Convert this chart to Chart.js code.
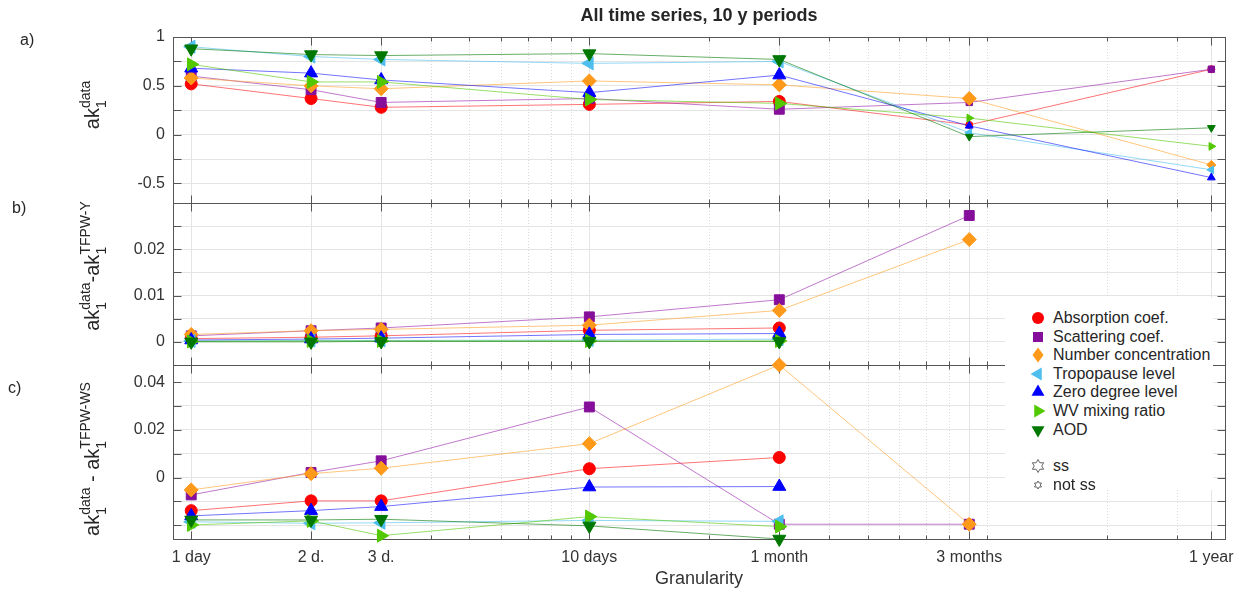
<!DOCTYPE html>
<html>
<head>
<meta charset="utf-8">
<title>All time series, 10 y periods</title>
<script src="https://cdn.jsdelivr.net/npm/chart.js@4.4.1/dist/chart.umd.min.js"></script>
<style>
body { margin: 0; background: #fff; font-family: "Liberation Sans", Arial, sans-serif; }
#wrap { position: relative; width: 1243px; height: 594px; overflow: hidden; }
#plot { position: absolute; left: 0; top: 0; }
.txt { position: absolute; white-space: nowrap; color: #262626; }
.title { font-weight: bold; font-size: 18px; transform: translate(-50%, -50%); }
.panel { font-size: 16px; transform: translateY(-50%); }
.ytitle { font-size: 20px; transform: translate(-50%, -50%) rotate(-90deg); }
.ss { display: inline-block; vertical-align: -7px; font-size: 14px; line-height: 16px; }
.ss span { display: block; }
#legend { position: absolute; left: 1005px; top: 298px; width: 208px; height: 192px; background: #fff; }
.leg { position: absolute; left: 0; height: 18px; line-height: 18px; font-size: 16px; color: #262626; }
.leg svg { position: absolute; left: 23px; top: -1px; }
.leg span { position: absolute; left: 48px; white-space: nowrap; }
</style>
</head>
<body>
<div id="wrap">
  <canvas id="plot" width="1243" height="594"></canvas>
  <div class="txt title" style="left:699px;top:15px">All time series, 10 y periods</div>
  <div class="txt panel" style="left:20px;top:40px">a)</div>
  <div class="txt panel" style="left:12px;top:208px">b)</div>
  <div class="txt panel" style="left:8px;top:388px">c)</div>
  <div class="txt ytitle" style="left:93px;top:105px">ak<span class="ss"><span>data</span><span>1</span></span></div>
  <div class="txt ytitle" style="left:93px;top:266px">ak<span class="ss"><span>data</span><span>1</span></span>-ak<span class="ss"><span>TFPW-Y</span><span>1</span></span></div>
  <div class="txt ytitle" style="left:93px;top:459px">ak<span class="ss"><span>data</span><span>1</span></span> - ak<span class="ss"><span>TFPW-WS</span><span>1</span></span></div>
  <div id="legend"></div>
</div>
<script>
// granularity (days) and their labels
var granularityDays = [1, 2, 3, 10, 30, 90, 365];
var granularityLabels = ['1 day', '2 d.', '3 d.', '10 days', '1 month', '3 months', '1 year'];
var minorDays = [2, 3, 4, 5, 6, 7, 8, 9, 20, 30, 40, 50, 60, 70, 80, 90, 100, 200, 300];

var seriesNames = ['Absorption coef.', 'Scattering coef.', 'Number concentration', 'Tropopause level', 'Zero degree level', 'WV mixing ratio', 'AOD'];

// a) ak1 data
var absA = [0.52, 0.37, 0.28, 0.31, 0.34, 0.10, 0.67];
var scaA = [0.60, 0.46, 0.33, 0.37, 0.26, 0.33, 0.67];
var numA = [0.58, 0.50, 0.47, 0.55, 0.51, 0.37, -0.31];
var troA = [0.90, 0.80, 0.77, 0.73, 0.75, 0.02, -0.36];
var zerA = [0.68, 0.63, 0.56, 0.43, 0.61, 0.09, -0.44];
var wvA = [0.72, 0.54, 0.54, 0.36, 0.32, 0.17, -0.12];
var aodA = [0.88, 0.82, 0.81, 0.83, 0.77, -0.02, 0.07];
// statistically significant (1) or not (0), panel a
var ssA = [1, 1, 1, 1, 1, 0, 0];
var ssNumA = [1, 1, 1, 1, 1, 1, 0];
var ssAll = [1, 1, 1, 1, 1, 1, 1];

// b) ak1 data - ak1 TFPW-Y
var absB = [0.0007, 0.0010, 0.0013, 0.0025, 0.0030, null, null];
var scaB = [0.0013, 0.0024, 0.0030, 0.0054, 0.0091, 0.0273, null];
var numB = [0.0016, 0.0024, 0.0027, 0.0036, 0.0068, 0.0221, null];
var troB = [0.0002, 0.0003, 0.0003, 0.0004, 0.0006, null, null];
var zerB = [0.0004, 0.0006, 0.0008, 0.0016, 0.0018, null, null];
var wvB = [0.0001, 0.0002, 0.0002, 0.0002, 0.0002, null, null];
var aodB = [0.0000, 0.0000, 0.0001, 0.0001, 0.0001, null, null];

// c) ak1 data - ak1 TFPW-WS
var absC = [-0.0139, -0.0098, -0.0098, 0.0037, 0.0084, null, null];
var scaC = [-0.0073, 0.0021, 0.0070, 0.0296, -0.0196, -0.0196, null];
var numC = [-0.0052, 0.0016, 0.0039, 0.0142, 0.0472, -0.0196, null];
var troC = [-0.0186, -0.0192, -0.0190, -0.0180, -0.0184, null, null];
var zerC = [-0.0161, -0.0139, -0.0122, -0.0040, -0.0038, null, null];
var wvC = [-0.0199, -0.0182, -0.0244, -0.0164, -0.0206, null, null];
var aodC = [-0.0178, -0.0178, -0.0175, -0.0203, -0.0258, null, null];

// y ticks and which of them carry a label
var yTicksA = [-0.5, -0.25, 0, 0.25, 0.5, 0.75, 1];
var yLabelsA = [-0.5, 0, 0.5, 1];
var yTicksB = [0, 0.005, 0.01, 0.015, 0.02, 0.025];
var yLabelsB = [0, 0.01, 0.02];
var yTicksC = [-0.02, -0.01, 0, 0.01, 0.02, 0.03, 0.04];
var yLabelsC = [0, 0.02, 0.04];

// styles
var seriesColors = ['#ff0000', '#850f9a', '#ff9919', '#4dbeee', '#0000ff', '#52c800', '#007800'];
var lineColors = ['rgba(255,0,0,0.55)', 'rgba(150,30,170,0.6)', 'rgba(255,160,40,0.6)', 'rgba(77,190,238,0.6)', 'rgba(0,0,255,0.55)', 'rgba(82,200,0,0.6)', 'rgba(0,120,0,0.6)'];
var pointStyles = ['circle', 'rect', 'rectRot', 'triangle', 'triangle', 'triangle', 'triangle'];
var pointRotations = [0, 0, 0, -90, 0, 90, 180];
var bigRadius = [6, 7, 7, 7.5, 7.5, 7.5, 7.5];
var smallRadius = [3.5, 4.5, 4.5, 4.5, 4.5, 4.5, 4.5];

var fontFamily = '"Liberation Sans", Arial, sans-serif';
Chart.defaults.font.family = fontFamily;

function buildDatasets(values, flags, yId) {
    return values.map(function(vals, s) {
        return {
            label: seriesNames[s],
            yAxisID: yId,
            data: granularityDays.map(function(d, i) { return { x: d, y: vals[i] }; }),
            borderColor: lineColors[s],
            borderWidth: 1,
            backgroundColor: seriesColors[s],
            pointBackgroundColor: seriesColors[s],
            pointBorderColor: seriesColors[s],
            pointBorderWidth: 1,
            pointStyle: pointStyles[s],
            pointRotation: pointRotations[s],
            pointRadius: flags[s].map(function(f) { return f ? bigRadius[s] : smallRadius[s]; }),
            tension: 0,
            spanGaps: false,
            clip: false,
            order: 10 - s
        };
    });
}

function yScale(min, max, ticks, labels, weight, stackWeight) {
    return {
        type: 'linear',
        position: 'left',
        stack: 'panels',
        stackWeight: stackWeight,
        weight: weight,
        min: min,
        max: max,
        border: { display: false },
        grid: { color: '#e4e4e4', drawTicks: false },
        ticks: {
            autoSkip: false,
            padding: 8,
            color: '#333',
            font: { size: 16 },
            callback: function(v) { return labels.indexOf(v) >= 0 ? String(v) : ''; }
        },
        afterBuildTicks: function(s) { s.ticks = ticks.map(function(v) { return { value: v }; }); },
        afterFit: function(s) { s.width = 173; }
    };
}

// MATLAB style boxes, inward ticks and dotted minor grid
var matlabFrame = {
    id: 'matlabFrame',
    beforeDatasetsDraw: function(chart) {
        var ctx = chart.ctx;
        var area = chart.chartArea;
        var xs = chart.scales.x;
        var panels = [chart.scales.yA, chart.scales.yB, chart.scales.yC];
        var left = Math.round(area.left) + 0.5;
        var right = Math.round(area.right) + 0.5;
        ctx.save();
        ctx.lineWidth = 1;
        ctx.strokeStyle = '#d9d9d9';
        ctx.setLineDash([1, 2]);
        minorDays.forEach(function(d) {
            if (granularityDays.indexOf(d) >= 0) return;
            var px = Math.round(xs.getPixelForValue(d)) + 0.5;
            ctx.beginPath();
            ctx.moveTo(px, area.top);
            ctx.lineTo(px, area.bottom);
            ctx.stroke();
        });
        ctx.setLineDash([]);
        ctx.strokeStyle = '#555';
        panels.forEach(function(s) {
            var top = Math.round(s.top) + 0.5;
            var bot = Math.round(s.bottom) + 0.5;
            ctx.strokeRect(left, top, right - left, bot - top);
            ctx.beginPath();
            function tickX(d, len) {
                var px = Math.round(xs.getPixelForValue(d)) + 0.5;
                ctx.moveTo(px, top); ctx.lineTo(px, top + len);
                ctx.moveTo(px, bot); ctx.lineTo(px, bot - len);
            }
            granularityDays.forEach(function(d) { tickX(d, 8); });
            minorDays.forEach(function(d) { tickX(d, 4); });
            s.ticks.forEach(function(t) {
                var py = Math.round(s.getPixelForValue(t.value)) + 0.5;
                ctx.moveTo(left, py); ctx.lineTo(left + 8, py);
                ctx.moveTo(right, py); ctx.lineTo(right - 8, py);
            });
            ctx.stroke();
        });
        ctx.restore();
    }
};

var datasets = []
    .concat(buildDatasets([absA, scaA, numA, troA, zerA, wvA, aodA], [ssA, ssA, ssNumA, ssA, ssA, ssA, ssA], 'yA'))
    .concat(buildDatasets([absB, scaB, numB, troB, zerB, wvB, aodB], [ssAll, ssAll, ssAll, ssAll, ssAll, ssAll, ssAll], 'yB'))
    .concat(buildDatasets([absC, scaC, numC, troC, zerC, wvC, aodC], [ssAll, ssAll, ssAll, ssAll, ssAll, ssAll, ssAll], 'yC'));

var chart = new Chart(document.getElementById('plot'), {
    type: 'line',
    data: { datasets: datasets },
    plugins: [matlabFrame],
    options: {
        responsive: false,
        animation: false,
        events: [],
        layout: { padding: { top: 37, right: 18, bottom: 0, left: 0 } },
        plugins: { legend: { display: false }, tooltip: { enabled: false } },
        scales: {
            x: {
                type: 'logarithmic',
                position: 'bottom',
                min: 0.9,
                max: 395,
                border: { display: false },
                grid: { color: '#e4e4e4', drawTicks: false },
                ticks: {
                    autoSkip: false,
                    maxRotation: 0,
                    padding: 9,
                    color: '#333',
                    font: { size: 16 },
                    callback: function(v, i) { return granularityLabels[i]; }
                },
                title: { display: true, text: 'Granularity', color: '#333', font: { size: 18 }, padding: { top: 0, bottom: 4 } },
                afterBuildTicks: function(s) { s.ticks = granularityDays.map(function(d) { return { value: d }; }); },
                afterFit: function(s) { s.height = 55; }
            },
            yA: yScale(-0.7, 1, yTicksA, yLabelsA, 3, 166),
            yB: yScale(-0.005, 0.03, yTicksB, yLabelsB, 2, 162),
            yC: yScale(-0.0258, 0.0472, yTicksC, yLabelsC, 1, 174)
        }
    }
});

// legend drawn as html over the right side of panels b and c
function markerSvg(shape, color, rot, r) {
    var body = '';
    if (shape === 'circle') {
        body = '<circle cx="0" cy="0" r="' + r + '" fill="' + color + '"/>';
    } else if (shape === 'rect') {
        body = '<rect x="-5" y="-5" width="10" height="10" fill="' + color + '"/>';
    } else if (shape === 'rectRot') {
        body = '<polygon points="0,-7.5 5.5,0 0,7.5 -5.5,0" fill="' + color + '"/>';
    } else if (shape === 'triangle') {
        var pts = [];
        for (var k = 0; k < 3; k++) {
            var a = (rot + k * 120) * Math.PI / 180;
            pts.push((Math.sin(a) * r).toFixed(2) + ',' + (-Math.cos(a) * r).toFixed(2));
        }
        body = '<polygon points="' + pts.join(' ') + '" fill="' + color + '"/>';
    } else if (shape === 'hex') {
        var hp = [];
        for (var j = 0; j < 12; j++) {
            var rr = j % 2 ? r / Math.sqrt(3) : r;
            var b = j * Math.PI / 6;
            hp.push((Math.sin(b) * rr).toFixed(2) + ',' + (-Math.cos(b) * rr).toFixed(2));
        }
        body = '<polygon points="' + hp.join(' ') + '" fill="none" stroke="#555" stroke-width="0.9"/>';
    }
    return '<svg width="20" height="20" viewBox="-10 -10 20 20">' + body + '</svg>';
}

var legend = document.getElementById('legend');
var rows = [];
seriesNames.forEach(function(name, s) {
    rows.push({ top: 11 + s * 18.6, svg: markerSvg(pointStyles[s], seriesColors[s], pointRotations[s], s === 0 ? 6 : 7.5), text: name });
});
rows.push({ top: 159, svg: markerSvg('hex', '', 0, 6.5), text: 'ss' });
rows.push({ top: 177.5, svg: markerSvg('hex', '', 0, 4), text: 'not ss' });
rows.forEach(function(r) {
    var div = document.createElement('div');
    div.className = 'leg';
    div.style.top = r.top + 'px';
    div.innerHTML = r.svg + '<span>' + r.text + '</span>';
    legend.appendChild(div);
});
</script>
</body>
</html>
